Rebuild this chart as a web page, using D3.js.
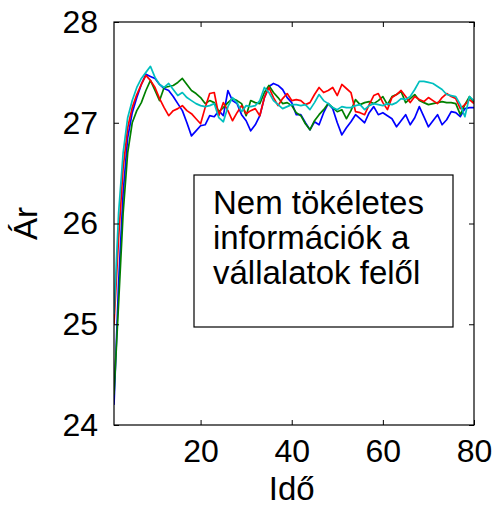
<!DOCTYPE html>
<html>
<head>
<meta charset="utf-8">
<script src="https://cdn.jsdelivr.net/npm/d3@7"></script>
<style>
  body { margin: 0; background: #fff; }
  svg { display: block; font-family: Arial, "Liberation Sans", sans-serif; }
</style>
</head>
<body>
<svg id="chart" width="497" height="507"></svg>
<script>
(function() {
  'use strict';

  // Time steps 1..80
  var time = d3.range(1, 81);

  var blue = [24.2, 25.4, 26.3, 26.85, 27.1, 27.25, 27.38, 27.48, 27.46, 27.44,
    27.38, 27.34, 27.32, 27.26, 27.19, 27.12, 27.0, 26.87, 26.92, 26.97,
    26.98, 27.07, 27.06, 27.12, 27.07, 27.32, 27.22, 27.19, 27.08, 27.02,
    26.92, 26.98, 27.07, 27.25, 27.36, 27.39, 27.37, 27.33, 27.25, 27.2,
    27.08, 27.08, 27.0, 26.93, 27.01, 26.98, 27.1, 27.19, 27.14, 27.0,
    26.88, 26.95, 27.01, 27.08, 27.04, 27.0, 27.1, 27.16, 27.08, 27.1,
    27.07, 27.04, 26.96, 27.02, 27.08, 26.98, 27.05, 27.16, 27.06, 26.96,
    27.02, 27.08, 26.98, 27.03, 27.11, 27.1, 27.06, 27.14, 27.15, 27.15];

  var green = [24.3, 25.2, 26.1, 26.7, 27.0, 27.12, 27.2, 27.32, 27.42, 27.32,
    27.22, 27.35, 27.36, 27.37, 27.4, 27.44, 27.38, 27.32, 27.29, 27.25,
    27.19, 27.22, 27.2, 27.11, 27.15, 27.2, 27.24, 27.22, 27.19, 27.07,
    27.22, 27.2, 27.19, 27.3, 27.37, 27.3, 27.25, 27.19, 27.2, 27.17,
    27.1, 27.07, 26.99, 26.93, 27.02, 27.08, 27.13, 27.19, 27.15, 27.11,
    27.13, 27.04, 27.12, 27.23, 27.18, 27.2, 27.21, 27.19, 27.22, 27.26,
    27.18, 27.26, 27.28, 27.31, 27.2, 27.24, 27.28, 27.22, 27.2, 27.18,
    27.19, 27.2, 27.21, 27.2, 27.2, 27.19, 27.08, 27.18, 27.26, 27.2];

  var red = [25.0, 25.85, 26.55, 26.95, 27.15, 27.28, 27.38, 27.47, 27.42, 27.35,
    27.24, 27.15, 27.07, 27.12, 27.14, 27.17, 27.12, 27.09, 27.04, 26.99,
    27.15, 27.29, 27.3, 27.07, 27.2, 27.12, 27.02, 27.1, 27.17, 27.09,
    27.12, 27.14, 27.07, 27.25, 27.35, 27.25, 27.17, 27.24, 27.29, 27.22,
    27.23, 27.22, 27.18, 27.2, 27.28, 27.35, 27.3, 27.32, 27.35, 27.27,
    27.38, 27.34, 27.3, 27.11, 27.1, 27.08, 27.18, 27.27, 27.29, 27.2,
    27.13, 27.25, 27.28, 27.32, 27.26, 27.2, 27.26, 27.23, 27.21, 27.25,
    27.22, 27.19, 27.25, 27.29, 27.26, 27.24, 27.14, 27.18, 27.23, 27.19];

  var cyan = [25.1, 26.1, 26.7, 27.05, 27.22, 27.35, 27.44, 27.5, 27.56, 27.45,
    27.38, 27.35, 27.39, 27.33, 27.27, 27.3, 27.25, 27.22, 27.19, 27.17,
    27.16, 27.17, 27.19, 27.05, 27.01, 27.16, 27.25, 27.2, 27.11, 27.17,
    27.16, 27.17, 27.22, 27.35, 27.3, 27.22, 27.18, 27.14, 27.16, 27.18,
    27.18, 27.17, 27.18, 27.13, 27.2, 27.28, 27.22, 27.19, 27.15, 27.13,
    27.16, 27.15, 27.15, 27.17, 27.18, 27.13, 27.17, 27.19, 27.18, 27.17,
    27.19, 27.18, 27.2, 27.24, 27.23, 27.26, 27.33, 27.41, 27.41, 27.4,
    27.39, 27.36, 27.33, 27.28, 27.27, 27.26, 27.18, 27.06, 27.26, 27.22];

  var seriesNames = ["blue", "green", "red", "cyan"];
  var seriesValues = [blue, green, red, cyan];
  var seriesColors = ["#0000ff", "#008000", "#ff0000", "#00bfbf"];

  var xTicks = [20, 40, 60, 80];
  var yTicks = [24, 25, 26, 27, 28];
  var noteLines = ["Nem tökéletes", "információk a", "vállalatok felől"];

  var margin = { left: 114, top: 22, right: 23, bottom: 82 };
  var width = 497 - margin.left - margin.right;
  var height = 507 - margin.top - margin.bottom;
  var tickLen = 5;

  var svg = d3.select("#chart");
  var g = svg.append("g")
    .attr("transform", "translate(" + margin.left + "," + margin.top + ")");

  var x = d3.scaleLinear().domain([1, 80]).range([0, width]);
  var y = d3.scaleLinear().domain([24, 28]).range([height, 0]);

  var line = d3.line()
    .x(function(d, i) { return x(time[i]); })
    .y(function(d) { return y(d); });

  g.append("defs").append("clipPath")
    .attr("id", "plot-clip")
    .append("rect")
    .attr("width", width)
    .attr("height", height);

  var lines = g.append("g").attr("clip-path", "url(#plot-clip)");
  seriesValues.forEach(function(vals, i) {
    lines.append("path")
      .datum(vals)
      .attr("class", "series " + seriesNames[i])
      .attr("fill", "none")
      .attr("stroke", seriesColors[i])
      .attr("stroke-width", 1.7)
      .attr("stroke-linejoin", "round")
      .attr("d", line);
  });

  // Axes with inward ticks, mirrored on the top and right
  function styleAxis(sel) {
    sel.select(".domain").remove();
    sel.selectAll(".tick line").attr("stroke", "#000").attr("stroke-width", 1);
    sel.selectAll(".tick text")
      .attr("fill", "#000")
      .style("font-size", "32px");
  }

  var fmt = d3.format("d");

  g.append("g")
    .attr("transform", "translate(0," + height + ")")
    .call(d3.axisBottom(x).tickValues(xTicks).tickFormat(fmt)
      .tickSizeInner(-tickLen).tickSizeOuter(0).tickPadding(14))
    .call(styleAxis);

  g.append("g")
    .call(d3.axisTop(x).tickValues(xTicks).tickFormat("")
      .tickSizeInner(-tickLen).tickSizeOuter(0))
    .call(styleAxis);

  g.append("g")
    .call(d3.axisLeft(y).tickValues(yTicks).tickFormat(fmt)
      .tickSizeInner(-tickLen).tickSizeOuter(0).tickPadding(16))
    .call(styleAxis);

  g.append("g")
    .attr("transform", "translate(" + width + ",0)")
    .call(d3.axisRight(y).tickValues(yTicks).tickFormat("")
      .tickSizeInner(-tickLen).tickSizeOuter(0))
    .call(styleAxis);

  g.append("rect")
    .attr("width", width)
    .attr("height", height)
    .attr("fill", "none")
    .attr("stroke", "#000")
    .attr("stroke-width", 1.2);

  // Axis titles
  svg.append("text")
    .attr("x", margin.left + x(40))
    .attr("y", 500)
    .attr("text-anchor", "middle")
    .style("font-size", "33px")
    .text("Idő");

  svg.append("text")
    .attr("transform", "translate(37," + (margin.top + y(26)) + ") rotate(-90)")
    .attr("text-anchor", "middle")
    .style("font-size", "33px")
    .text("Ár");

  // Annotation box
  var note = svg.append("g").attr("class", "note");
  note.append("rect")
    .attr("x", 194)
    .attr("y", 175)
    .attr("width", 259)
    .attr("height", 152)
    .attr("fill", "#fff")
    .attr("stroke", "#000")
    .attr("stroke-width", 1.2);

  note.selectAll("text.line")
    .data(noteLines)
    .enter().append("text")
    .attr("class", "line")
    .attr("x", 213)
    .attr("y", function(d, i) { return 214 + i * 35; })
    .style("font-size", "33px")
    .text(function(d) { return d; });
}());
</script>
</body>
</html>
